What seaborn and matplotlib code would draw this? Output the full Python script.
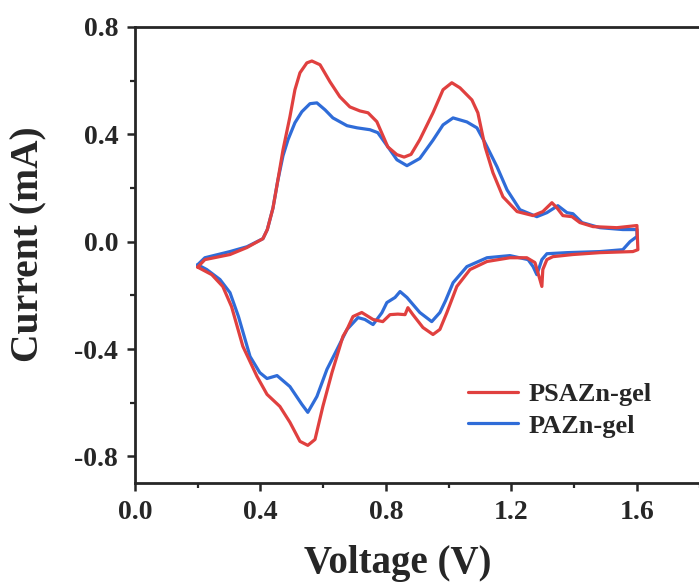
import matplotlib
matplotlib.use('Agg')
import matplotlib.pyplot as plt
import seaborn as sns
import pandas as pd
from matplotlib.ticker import MultipleLocator

# PSAZn-gel loop (anodic sweep then cathodic sweep back)
psa_v = [0.200, 0.223, 0.303, 0.357, 0.408, 0.422, 0.440, 0.455, 0.472, 0.494,
         0.510, 0.526, 0.548, 0.564, 0.590, 0.622, 0.653, 0.685, 0.717, 0.743,
         0.771, 0.806, 0.835, 0.858, 0.880, 0.908, 0.950, 0.982, 1.010, 1.036,
         1.074, 1.093, 1.116, 1.141, 1.173, 1.218, 1.269, 1.300, 1.329, 1.345,
         1.364, 1.393, 1.418, 1.460, 1.536, 1.600, 1.603,
         1.587, 1.482, 1.396, 1.332, 1.313, 1.300, 1.297, 1.288, 1.275, 1.249,
         1.195, 1.122, 1.068, 1.026, 0.994, 0.972, 0.950, 0.918, 0.886, 0.870,
         0.861, 0.838, 0.813, 0.790, 0.759, 0.723, 0.695, 0.676, 0.663, 0.628,
         0.599, 0.574, 0.551, 0.526, 0.494, 0.462, 0.421, 0.389, 0.344, 0.308,
         0.280, 0.245, 0.200]
psa_i = [-0.095, -0.067, -0.048, -0.022, 0.011, 0.045, 0.125, 0.225, 0.342, 0.465,
         0.566, 0.629, 0.666, 0.673, 0.659, 0.595, 0.540, 0.502, 0.487, 0.480,
         0.447, 0.353, 0.324, 0.315, 0.325, 0.380, 0.480, 0.566, 0.592, 0.573,
         0.528, 0.480, 0.353, 0.257, 0.167, 0.112, 0.097, 0.112, 0.145, 0.126,
         0.097, 0.093, 0.071, 0.056, 0.052, 0.060, -0.030,
         -0.037, -0.041, -0.048, -0.056, -0.067, -0.104, -0.167, -0.130, -0.078, -0.060,
         -0.060, -0.074, -0.104, -0.167, -0.265, -0.327, -0.346, -0.320, -0.272, -0.246,
         -0.272, -0.270, -0.272, -0.298, -0.290, -0.264, -0.279, -0.327, -0.353, -0.488,
         -0.614, -0.737, -0.759, -0.744, -0.673, -0.614, -0.569, -0.502, -0.390, -0.242,
         -0.167, -0.123, -0.095]

# PAZn-gel loop
pa_v = [0.200, 0.223, 0.303, 0.357, 0.408, 0.422, 0.440, 0.455, 0.472, 0.488,
        0.510, 0.532, 0.558, 0.580, 0.606, 0.631, 0.676, 0.708, 0.749, 0.774,
        0.813, 0.835, 0.867, 0.908, 0.950, 0.982, 1.014, 1.058, 1.090, 1.116,
        1.154, 1.186, 1.227, 1.281, 1.313, 1.348, 1.377, 1.396, 1.425, 1.482,
        1.555, 1.600, 1.600,
        1.578, 1.555, 1.482, 1.377, 1.313, 1.297, 1.281, 1.269, 1.253, 1.195,
        1.122, 1.058, 1.014, 0.990, 0.972, 0.946, 0.908, 0.867, 0.845, 0.829,
        0.803, 0.787, 0.759, 0.733, 0.711, 0.676, 0.644, 0.612, 0.580, 0.551,
        0.532, 0.494, 0.453, 0.421, 0.398, 0.367, 0.330, 0.303, 0.271, 0.229,
        0.200]
pa_i = [-0.086, -0.060, -0.037, -0.019, 0.011, 0.045, 0.125, 0.225, 0.320, 0.380,
        0.443, 0.484, 0.514, 0.517, 0.491, 0.461, 0.432, 0.424, 0.417, 0.406,
        0.342, 0.305, 0.283, 0.310, 0.378, 0.435, 0.461, 0.446, 0.424, 0.368,
        0.279, 0.193, 0.119, 0.093, 0.108, 0.134, 0.108, 0.104, 0.071, 0.052,
        0.045, 0.045, 0.019,
        0.000, -0.030, -0.037, -0.041, -0.045, -0.067, -0.123, -0.093, -0.067, -0.052,
        -0.060, -0.093, -0.153, -0.220, -0.264, -0.298, -0.264, -0.208, -0.186, -0.208,
        -0.227, -0.265, -0.309, -0.290, -0.283, -0.327, -0.402, -0.476, -0.577, -0.636,
        -0.606, -0.540, -0.499, -0.510, -0.488, -0.428, -0.279, -0.190, -0.141, -0.104,
        -0.086]

x_ticks = [0.0, 0.4, 0.8, 1.2, 1.6]
y_ticks = [-0.8, -0.4, 0.0, 0.4, 0.8]

red = '#E0403F'
blue = '#2F6CD8'

sns.set_style("ticks")
plt.rcParams['font.family'] = ['Liberation Serif', 'DejaVu Serif']
plt.rcParams['font.weight'] = 'bold'

fig = plt.figure(figsize=(6.99, 5.85), dpi=100)
ax = fig.add_axes([0.193, 0.174, 0.808, 0.780])

df_pa = pd.DataFrame({'V': pa_v, 'I': pa_i})
df_psa = pd.DataFrame({'V': psa_v, 'I': psa_i})

sns.lineplot(data=df_pa, x='V', y='I', sort=False, estimator=None, color=blue,
             linewidth=2.3, ax=ax, label='PAZn-gel', solid_joinstyle='round')
sns.lineplot(data=df_psa, x='V', y='I', sort=False, estimator=None, color=red,
             linewidth=2.3, ax=ax, label='PSAZn-gel', solid_joinstyle='round')

ax.set_xlim(0, 1.8)
ax.set_ylim(-0.9, 0.8)
ax.set_xticks(x_ticks)
ax.set_yticks(y_ticks)
ax.set_xticklabels([f"{t:.1f}" for t in x_ticks])
ax.set_yticklabels([f"{t:.1f}" for t in y_ticks])
ax.xaxis.set_minor_locator(MultipleLocator(0.2))
ax.yaxis.set_minor_locator(MultipleLocator(0.2))
ax.tick_params(which='major', direction='out', length=6, width=1.8, labelsize=20, pad=6)
ax.tick_params(which='minor', direction='out', length=3.5, width=1.6)

for s in ['left', 'bottom', 'top']:
    ax.spines[s].set_linewidth(2.0)
ax.spines['right'].set_visible(False)

ax.set_xlabel('Voltage (V)', fontsize=28, fontweight='bold')
ax.set_ylabel('Current (mA)', fontsize=28.5, fontweight='bold')
ax.xaxis.set_label_coords(0.466, -0.135)
ax.yaxis.set_label_coords(-0.155, 0.524)

handles, labels = ax.get_legend_handles_labels()
ax.legend(handles[::-1], labels[::-1], loc='center left', bbox_to_anchor=(0.589, 0.160),
          frameon=False, fontsize=19, handlelength=1.9, handletextpad=0.4,
          labelspacing=0.3, borderpad=0, borderaxespad=0)

fig.savefig('out.png', dpi=100)
plt.close(fig)
